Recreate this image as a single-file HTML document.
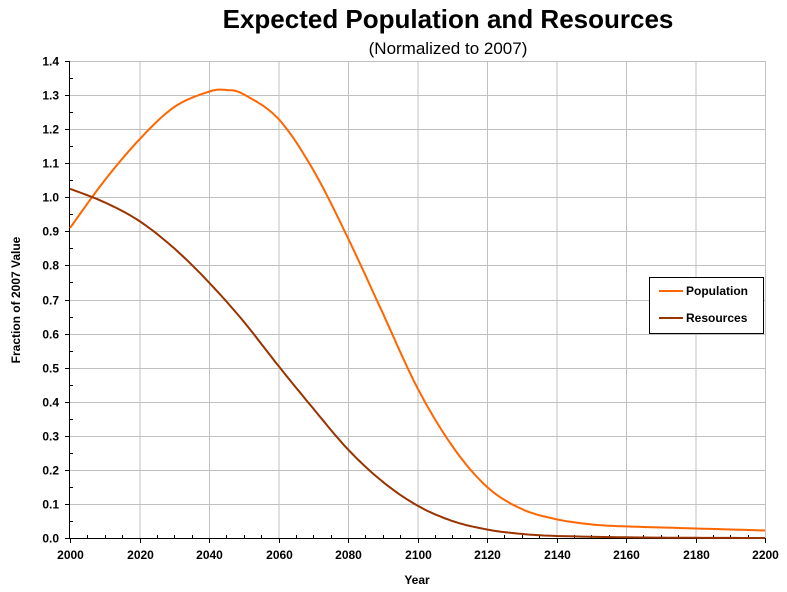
<!DOCTYPE html>
<html><head><meta charset="utf-8"><style>
body{margin:0;background:#fff;}
svg{display:block;font-family:"Liberation Sans",Arial,sans-serif;}
</style></head><body>
<svg id="s" width="787" height="592" viewBox="0 0 787 592">
<text x="448" y="28" text-anchor="middle" font-size="26" font-weight="bold">Expected Population and Resources</text>
<text x="448" y="54" text-anchor="middle" font-size="17">(Normalized to 2007)</text>
<g id="grid" stroke="#c0c0c0" stroke-width="1"></g>
<g id="axes" stroke="#000" stroke-width="1"></g>
<g id="lab" font-size="12" font-weight="bold"></g>
<path id="pop" fill="none" stroke="#ff6600" stroke-width="2"/>
<path id="res" fill="none" stroke="#993300" stroke-width="2"/>
<text x="417" y="584" text-anchor="middle" font-size="12" font-weight="bold">Year</text>
<text transform="translate(20,300) rotate(-90)" text-anchor="middle" font-size="12" font-weight="bold">Fraction of 2007 Value</text>
<rect x="649.5" y="277.5" width="114" height="56" fill="#fff" stroke="#000"/>
<line x1="659" y1="291" x2="683" y2="291" stroke="#ff6600" stroke-width="2"/>
<line x1="659" y1="318" x2="683" y2="318" stroke="#993300" stroke-width="2"/>
<text x="686" y="295" font-size="12" font-weight="bold">Population</text>
<text x="686" y="322" font-size="12" font-weight="bold">Resources</text>
</svg>
<script>
const X=y=>70+(y-2000)*3.475, Y=v=>538-v*340.7;
const NS="http://www.w3.org/2000/svg";
function el(p,t,a,txt){const e=document.createElementNS(NS,t);for(const k in a)e.setAttribute(k,a[k]);if(txt!=null)e.textContent=txt;document.getElementById(p).appendChild(e);}
for(let y=2020;y<=2200;y+=20)el("grid","line",{x1:X(y)+.5,x2:X(y)+.5,y1:61,y2:538});
for(let i=1;i<=14;i++){const v=Y(i/10);el("grid","line",{x1:70,x2:765,y1:Math.round(v)+.5,y2:Math.round(v)+.5});}
el("axes","line",{x1:69.5,x2:69.5,y1:61,y2:538.5});
el("axes","line",{x1:69,x2:765,y1:538.5,y2:538.5});
for(let i=0;i<=14;i++){const v=Math.round(Y(i/10))+.5;el("axes","line",{x1:65,x2:70,y1:v,y2:v});el("lab","text",{x:59,y:v+4,"text-anchor":"end"},(i/10).toFixed(1));
 if(i<14){const m=Math.round(Y(i/10+.05))+.5;el("axes","line",{x1:70,x2:73,y1:m,y2:m});}}
for(let y=2000;y<=2200;y+=5){const x=Math.round(X(y))+.5;if(y%20==0){el("axes","line",{x1:x,x2:x,y1:538,y2:543});el("lab","text",{x:x,y:559,"text-anchor":"middle"},y);}else el("axes","line",{x1:x,x2:x,y1:535,y2:538});}
function path(pts){const P=pts.map(p=>[X(p[0]),Y(p[1])]);let d="M"+P[0][0]+","+P[0][1];
 for(let i=0;i<P.length-1;i++){const p0=P[Math.max(0,i-1)],p1=P[i],p2=P[i+1],p3=P[Math.min(P.length-1,i+2)];
 for(let t=.1;t<=1.001;t+=.1){const t2=t*t,t3=t2*t;const f=(a,b,c,e)=>.5*(2*b+(-a+c)*t+(2*a-5*b+4*c-e)*t2+(-a+3*b-3*c+e)*t3);
 d+=" L"+f(p0[0],p1[0],p2[0],p3[0]).toFixed(1)+","+f(p0[1],p1[1],p2[1],p3[1]).toFixed(1);}}return d;}
document.getElementById("pop").setAttribute("d",path([[2000,.91],[2010,1.05],[2020,1.17],[2030,1.265],[2040,1.31],[2045,1.315],[2050,1.302],[2060,1.23],[2070,1.08],[2080,.88],[2090,.66],[2100,.44],[2110,.27],[2120,.15],[2130,.085],[2140,.055],[2150,.04],[2160,.034],[2180,.028],[2200,.022]]));
document.getElementById("res").setAttribute("d",path([[2000,1.025],[2010,.985],[2020,.93],[2030,.85],[2040,.75],[2050,.635],[2060,.505],[2070,.38],[2080,.26],[2090,.165],[2100,.095],[2110,.05],[2120,.025],[2130,.012],[2140,.006],[2160,.002],[2180,.0005],[2200,0]]));
</script>
</body></html>
